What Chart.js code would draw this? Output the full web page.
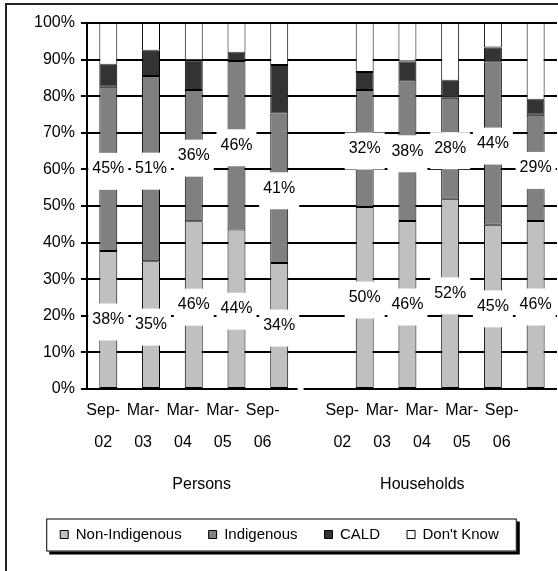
<!DOCTYPE html>
<html>
<head>
<meta charset="utf-8">
<script src="https://cdn.jsdelivr.net/npm/chart.js@4.4.0/dist/chart.umd.min.js"></script>
<style>
  html, body { margin: 0; padding: 0; background: #fff; }
  #wrap { position: relative; width: 558px; height: 571px; overflow: hidden; }
  #frame { position: absolute; left: 5px; top: 3px; width: 700px; height: 700px;
           border-left: 2px solid #222; border-top: 2px solid #222; }
  canvas { position: absolute; left: 0; top: 0; }
</style>
</head>
<body>
<div id="wrap">
  <div id="frame"></div>
  <canvas id="chart" width="558" height="571"></canvas>
</div>
<script>
// periods shown under each group
const periodLabels = [['Sep-', '02'], ['Mar-', '03'], ['Mar-', '04'], ['Mar-', '05'], ['Sep-', '06']];
const groups = ['Persons', 'Households'];

// percentages (Persons / Households)
const personsNonInd = [37.7, 34.9, 45.8, 43.6, 34.4];
const personsInd    = [44.9, 50.6, 35.9, 46.0, 40.9];
const personsCald   = [6.0, 6.9, 8.1, 2.3, 13.2];
const personsDk     = [11.4, 7.6, 10.2, 8.1, 11.5];

const householdsNonInd = [49.7, 45.9, 52.0, 44.9, 45.9];
const householdsInd    = [32.0, 38.1, 27.6, 44.3, 29.0];
const householdsCald   = [4.9, 5.5, 4.6, 4.1, 4.1];
const householdsDk     = [13.4, 10.5, 15.8, 6.7, 21.0];

const yTicks = [0, 10, 20, 30, 40, 50, 60, 70, 80, 90, 100];

// one empty slot between the two groups
const join = (a, b) => [...a, null, ...b];
const categories = join(periodLabels.map(p => 'P ' + p.join('')), periodLabels.map(p => 'H ' + p.join('')));

// the tick labels in the original sit on a slightly tighter spacing than the bars
const labelSpan = { min: -0.41, max: 11.39 };
const periodSlots = [0, 1, 2, 3, 4, 6, 7, 8, 9, 10];
const groupSlots = [2.47, 8.01];

Chart.defaults.font.family = "'Liberation Sans', Arial, sans-serif";
Chart.defaults.color = '#000';

const labelBoxes = {
  id: 'labelBoxes',
  afterDatasetsDraw(chart) {
    const ctx = chart.ctx;
    ctx.save();
    ctx.font = "16px 'Liberation Sans', Arial, sans-serif";
    ctx.textAlign = 'center';
    ctx.textBaseline = 'middle';
    [0, 1].forEach(di => {
      const ds = chart.data.datasets[di];
      chart.getDatasetMeta(di).data.forEach((bar, j) => {
        const v = ds.data[j];
        if (v == null) return;
        const p = bar.getProps(['x', 'y', 'base'], true);
        const cy = (p.y + p.base) / 2;
        const txt = Math.round(v) + '%';
        const w = ctx.measureText(txt).width + 8;
        ctx.fillStyle = '#fff';
        ctx.fillRect(p.x - w / 2, cy - 16, w, 37);
        ctx.fillStyle = '#000';
        ctx.fillText(txt, p.x, cy);
      });
    });
    ctx.restore();
  },
  afterDraw(chart) {
    // category axis line, with a small break between the two groups
    const x = chart.scales.x;
    const area = chart.chartArea;
    const px = x.getPixelForValue(4.5);
    const ctx = chart.ctx;
    ctx.save();
    ctx.strokeStyle = '#000';
    ctx.lineWidth = 2;
    ctx.beginPath();
    ctx.moveTo(area.left - 1, area.bottom);
    ctx.lineTo(px - 3, area.bottom);
    ctx.moveTo(px + 3, area.bottom);
    ctx.lineTo(area.right, area.bottom);
    ctx.stroke();
    ctx.restore();
  }
};

// legend placement nudged to where the original has it
const legendShift = { x: -13, y: -5 };

const legendFrame = {
  id: 'legendFrame',
  afterLayout(chart) {
    const lg = chart.legend;
    lg.left += legendShift.x; lg.right += legendShift.x;
    lg.top += legendShift.y; lg.bottom += legendShift.y;
  },
  beforeDraw(chart) {
    const lg = chart.legend;
    if (!lg || !lg.legendHitBoxes.length) return;
    const hb = lg.legendHitBoxes;
    const left = Math.min(...hb.map(h => h.left)) - 14;
    const right = Math.max(...hb.map(h => h.left + h.width)) + 18;
    const cy = hb[0].top + hb[0].height / 2;
    const top = cy - 16, h = 33;
    const ctx = chart.ctx;
    ctx.save();
    ctx.fillStyle = '#000';
    ctx.fillRect(left + 3, top + 3, right - left, h);
    ctx.fillStyle = '#fff';
    ctx.fillRect(left, top, right - left, h);
    ctx.strokeStyle = '#000';
    ctx.lineWidth = 1;
    ctx.strokeRect(left + 0.5, top + 0.5, right - left - 1, h - 1);
    ctx.restore();
  }
};

new Chart(document.getElementById('chart'), {
  type: 'bar',
  data: {
    labels: categories,
    datasets: [
      { label: 'Non-Indigenous', data: join(personsNonInd, householdsNonInd), backgroundColor: '#c0c0c0' },
      { label: 'Indigenous', data: join(personsInd, householdsInd), backgroundColor: '#808080' },
      { label: 'CALD', data: join(personsCald, householdsCald), backgroundColor: '#333333' },
      { label: "Don't Know", data: join(personsDk, householdsDk), backgroundColor: '#ffffff' }
    ].map(d => Object.assign(d, {
      borderColor: '#000', borderWidth: 1, borderSkipped: false,
      categoryPercentage: 1, barPercentage: 0.42
    }))
  },
  options: {
    responsive: false,
    animation: false,
    layout: { padding: { left: 28, right: 1, top: 23, bottom: 14 } },
    plugins: {
      tooltip: { enabled: false },
      legend: {
        position: 'bottom',
        labels: { boxWidth: 8, boxHeight: 8, padding: 27, font: { size: 15 }, color: '#000' }
      }
    },
    scales: {
      x: {
        stacked: true,
        grid: { display: false, drawTicks: false },
        border: { display: false },
        ticks: { display: false }
      },
      xl: {
        type: 'linear', position: 'bottom', offset: false,
        min: labelSpan.min, max: labelSpan.max,
        afterBuildTicks: s => { s.ticks = periodSlots.map(v => ({ value: v })); },
        ticks: {
          autoSkip: false, maxRotation: 0, padding: 6,
          font: { size: 16, lineHeight: 2 },
          callback: v => periodLabels[periodSlots.indexOf(v) % 5]
        },
        grid: { display: false, drawTicks: false, offset: false },
        border: { display: false }
      },
      xg: {
        type: 'linear', position: 'bottom', offset: false,
        min: labelSpan.min, max: labelSpan.max,
        afterBuildTicks: s => { s.ticks = groupSlots.map(v => ({ value: v })); },
        ticks: {
          autoSkip: false, maxRotation: 0, padding: 10.4,
          font: { size: 16 },
          callback: v => groups[groupSlots.indexOf(v)]
        },
        grid: { display: false, drawTicks: false, offset: false },
        border: { display: false }
      },
      y: {
        stacked: true, min: 0, max: 100,
        afterBuildTicks: s => { s.ticks = yTicks.map(v => ({ value: v })); },
        ticks: { font: { size: 16 }, padding: 6, callback: v => v + '%' },
        grid: {
          color: ctx => ctx.tick && ctx.tick.value === 0 ? 'rgba(0,0,0,0)' : '#000',
          lineWidth: 2, tickLength: 6, tickColor: '#000'
        },
        border: { color: '#000', width: 2 }
      }
    }
  },
  plugins: [labelBoxes, legendFrame]
});
</script>
</body>
</html>
